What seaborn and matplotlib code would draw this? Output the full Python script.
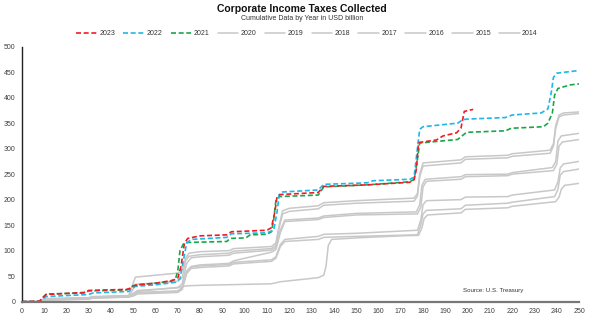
import matplotlib
matplotlib.use("Agg")
import matplotlib.pyplot as plt
import seaborn as sns
from matplotlib.lines import Line2D

sns.set_style("white")
plt.rcParams['font.family'] = ['Liberation Sans', 'DejaVu Sans']

# ---------------- data (trading day, cumulative USD bn) ----------------
x_2023 = [0, 8, 9.5, 11, 28, 30, 47, 48.5, 50, 52, 60, 68, 70, 71.5, 73, 74.5, 80, 92, 94, 110, 112, 113.5,
          114.5, 116, 133, 135.5, 155, 174, 176, 177, 178, 186, 189, 195, 197, 198.5, 202.5]
y_2023 = [0, 1, 8, 14, 18, 22, 24, 26, 31, 33, 36, 42, 46, 70, 115, 124, 129, 131, 137, 140, 145, 175,
          205, 210, 214, 226, 229, 234, 239, 260, 312, 317, 325, 331, 340, 373, 377]

x_2022 = [0, 8, 9.5, 11, 30, 32, 48, 49, 51, 60, 69, 71, 72.5, 74, 76, 92, 94, 110, 113, 114.5, 115.5, 117,
          133, 135.5, 155, 157.5, 174, 176, 177.2, 178.5, 180, 195.5, 198, 200, 217, 220, 233, 236, 237.5,
          238.5, 240, 249.5]
y_2022 = [0, 0, 6, 10, 14, 17, 20, 24, 30, 33, 38, 45, 80, 115, 122, 126, 133, 135, 140, 175, 210, 215,
          219, 230, 233, 237, 240, 244, 290, 338, 343, 350, 357, 358, 361, 366, 370, 378, 410,
          440, 448, 453]

x_2021 = [0, 8, 9.5, 11, 28, 30, 47, 48.5, 50, 52, 60, 67, 69, 70, 71, 72.5, 74, 92, 93.5, 100.5, 102.5,
          110, 112, 113, 114, 115.5, 133, 135.5, 155, 174, 176, 177.2, 178.5, 195.5, 197.5, 199.5, 217,
          219.5, 234, 236, 238, 239, 240.5, 246, 250]
y_2021 = [0, 0, 8, 15, 17, 21, 23, 25, 31, 33, 36, 40, 45, 60, 100, 113, 116, 118, 124, 125, 131,
          132, 137, 160, 198, 206, 209, 225, 229, 235, 240, 270, 311, 318, 325, 332, 335,
          340, 343, 350, 370, 405, 418, 425, 427]

x_2020 = [0, 8, 10, 30, 32, 48, 50, 52, 70, 74, 80, 112, 114, 116, 133, 135.5, 136.5, 137.5, 139, 150, 170,
          178, 179.5, 180.5, 182, 197, 199, 218, 220, 239.5, 241, 242, 243.5, 250]
y_2020 = [0, 0, 3, 5, 7, 9, 12, 20, 28, 31, 32, 35, 37, 39, 47, 52, 70, 110, 122, 125, 129,
          130, 145, 163, 170, 174, 181, 184, 187, 196, 205, 220, 228, 232]

x_2019 = [0, 8, 10, 30, 32, 48, 50, 52, 70, 72, 74, 76, 80, 93, 95, 112, 114, 116, 118, 133, 135.5, 150,
          177.5, 179, 180, 181.5, 197, 199, 218, 220, 239, 240.5, 241.5, 243, 250]
y_2019 = [0, 0, 4, 6, 8, 10, 12, 17, 20, 26, 58, 68, 70, 73, 77, 82, 88, 112, 122, 128, 132, 134,
          140, 160, 190, 198, 200, 205, 206, 209, 219, 235, 262, 270, 275]

x_2018 = [0, 8, 10, 30, 32, 48, 50, 52, 70, 72, 74, 76, 80, 93, 95, 112, 114, 116, 118, 133, 135.5, 150,
          177.5, 179, 180, 181.5, 197, 199, 218, 220, 239, 240.5, 241.5, 243, 250]
y_2018 = [0, 0, 3, 5, 7, 9, 11, 15, 18, 24, 55, 65, 67, 70, 74, 79, 85, 108, 118, 122, 126, 128,
          131, 150, 172, 179, 182, 189, 193, 195, 206, 220, 248, 255, 260]

x_2017 = [0, 8, 10, 30, 32, 48, 50, 52, 70, 72, 74, 76, 80, 93, 95, 112, 114, 116, 118, 133, 135.5, 150,
          177.5, 179, 180, 181.5, 197, 199, 218, 220, 238.5, 240, 241, 242.5, 250]
y_2017 = [0, 0, 4, 6, 8, 10, 13, 18, 21, 28, 60, 69, 72, 75, 80, 97, 102, 135, 157, 161, 165, 170,
          172, 185, 225, 236, 240, 245, 247, 250, 257, 270, 305, 313, 318]

x_2016 = [0, 8, 10, 30, 32, 48, 50, 52, 70, 72, 74, 76, 80, 93, 95, 112, 114, 116, 118, 133, 135.5, 150,
          177, 178.5, 179.5, 181, 197, 199, 218, 220, 238, 239.5, 240.5, 242, 250]
y_2016 = [0, 0, 5, 7, 9, 11, 16, 22, 27, 35, 75, 86, 88, 91, 95, 101, 106, 140, 160, 164, 168, 173,
          176, 190, 228, 240, 245, 249, 250, 253, 263, 275, 315, 325, 330]

x_2015 = [0, 8, 10, 30, 32, 48, 49.5, 51, 70, 72, 73.5, 75, 80, 93, 95, 112, 114, 115.5, 117, 120, 133,
          135.5, 150, 176, 177.5, 178.5, 180, 197, 199, 218, 220, 237, 238.5, 239.5, 241, 243, 250]
y_2015 = [0, 0, 6, 8, 10, 12, 30, 48, 56, 62, 85, 95, 98, 100, 104, 108, 115, 150, 178, 183, 188,
          194, 198, 203, 212, 250, 272, 278, 284, 287, 290, 297, 310, 345, 366, 370, 372]

x_2014 = [0, 8, 10, 30, 32, 48, 49.5, 51, 70, 72, 73.5, 75, 80, 93, 95, 112, 114, 115.5, 117, 120, 133,
          135.5, 150, 176, 177.5, 178.5, 180, 197, 199, 218, 220, 237, 238.5, 239.5, 241, 243, 250]
y_2014 = [0, 0, 5, 7, 9, 11, 20, 34, 40, 47, 80, 89, 92, 95, 99, 104, 110, 145, 172, 177, 182,
          189, 193, 197, 207, 245, 266, 272, 279, 282, 285, 291, 305, 340, 362, 366, 369]

years = ["2023", "2022", "2021", "2020", "2019", "2018", "2017", "2016", "2015", "2014"]
series = {
    "2023": (x_2023, y_2023), "2022": (x_2022, y_2022), "2021": (x_2021, y_2021),
    "2020": (x_2020, y_2020), "2019": (x_2019, y_2019), "2018": (x_2018, y_2018),
    "2017": (x_2017, y_2017), "2016": (x_2016, y_2016), "2015": (x_2015, y_2015),
    "2014": (x_2014, y_2014),
}
x_ticks = list(range(0, 251, 10))
y_ticks = list(range(0, 501, 50))

# ---------------- style ----------------
colors = {"2023": "#EE1C25", "2022": "#1FB6EA", "2021": "#1AA64A"}
gray = "#C8C8C8"
dash = (0, (3, 1.6))

fig = plt.figure(figsize=(6.02, 3.24), dpi=100)
ax = fig.add_axes([0.036, 0.069, 0.926, 0.787])

handles = []
for yr in years[::-1]:
    xs, ys = series[yr]
    if yr in colors:
        continue
    sns.lineplot(x=xs, y=ys, ax=ax, color=gray, linewidth=1.1, sort=False, estimator=None)
for yr in ["2021", "2022", "2023"]:
    xs, ys = series[yr]
    sns.lineplot(x=xs, y=ys, ax=ax, color=colors[yr], linewidth=1.2, linestyle=dash,
                 sort=False, estimator=None)

for yr in years:
    if yr in colors:
        handles.append(Line2D([], [], color=colors[yr], lw=1.2, linestyle=dash, label=yr))
    else:
        handles.append(Line2D([], [], color=gray, lw=1.1, label=yr))

ax.set_xlim(0, 250)
ax.set_ylim(0, 500)
ax.set_xticks(x_ticks)
ax.set_yticks(y_ticks)
ax.tick_params(axis="both", labelsize=5, colors="#404040", length=2.5, width=0.8, direction="out", pad=2)
ax.tick_params(axis="x", colors="#555555", labelcolor="#404040")
for s in ["top", "right"]:
    ax.spines[s].set_visible(False)
ax.spines["left"].set_color("#222222")
ax.spines["left"].set_linewidth(1.0)
ax.spines["bottom"].set_color("#777777")
ax.spines["bottom"].set_linewidth(1.6)
ax.set_xlabel("")
ax.set_ylabel("")
ax.grid(False)

fig.text(0.502, 0.972, "Corporate Income Taxes Collected", ha="center", va="center",
         fontsize=7.5, fontweight="bold", color="#111111")
fig.text(0.502, 0.944, "Cumulative Data by Year in USD billion", ha="center", va="center",
         fontsize=5, color="#333333")

fig.legend(handles=handles, loc="center", bbox_to_anchor=(0.51, 0.896), ncol=10, frameon=False,
           fontsize=5, handlelength=3.0, handletextpad=0.3, columnspacing=1.2, labelcolor="#333333")

ax.text(0.846, 0.045, "Source: U.S. Treasury", transform=ax.transAxes, fontsize=4.4, color="#333333",
        ha="center", va="center")

fig.savefig("out.png", dpi=100)
